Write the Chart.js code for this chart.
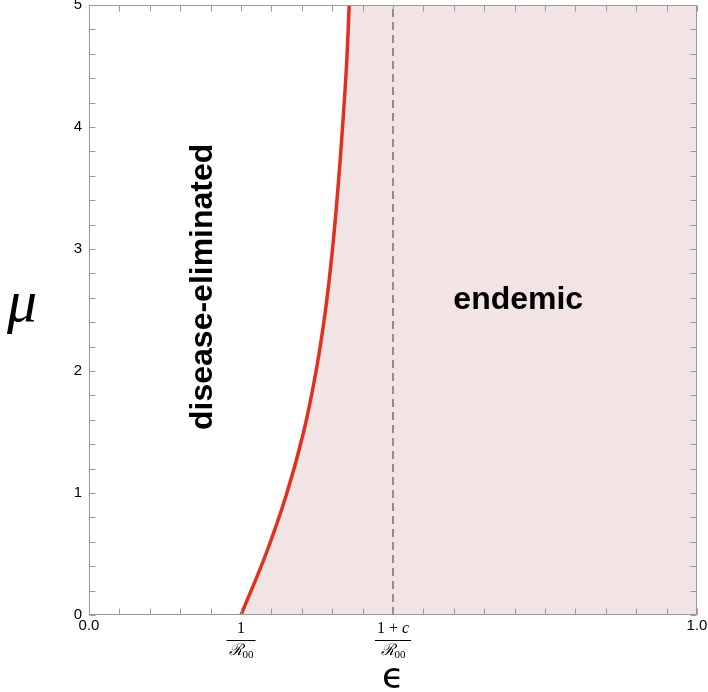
<!DOCTYPE html>
<html>
<head>
<meta charset="utf-8">
<script src="https://cdn.jsdelivr.net/npm/chart.js@4.4.0/dist/chart.umd.min.js"></script>
<style>
  html, body { margin: 0; padding: 0; background: #fff; }
</style>
</head>
<body>
<canvas id="graficoFase" width="708" height="692"></canvas>
<script>
// curva de fronteira (epsilon, mu)
var muCurve  = [0, 0.5, 1.0, 1.5, 2.0, 2.5, 3.0, 3.5, 4.0, 4.5, 5.0];
var epsCurve = [0.25, 0.291, 0.3255, 0.353, 0.3735, 0.389, 0.4005, 0.4095, 0.417, 0.4235, 0.428];

// linha tracejada em (1+c)/R00
var epsDashed = [0.5, 0.5];
var muDashed  = [0, 5];

var xRange = [0, 1];
var yRange = [0, 5];
var xEdgeTicks = [0, 1];
var xEdgeLabels = ['0.0', '1.0'];
var fracTicks = [0.25, 0.5];
var fracNum = ['1', '1 + c'];
var fracDen = ['\u211B', '\u211B'];
var fracSub = ['00', '00'];
var regionLabels = ['disease-eliminated', 'endemic'];
var axisTitles = ['\u03BC', '\u03F5'];

function toPoints(xs, ys) {
    return xs.map(function(x, i) { return { x: x, y: ys[i] }; });
}

var SANS = '"Liberation Sans", Arial, Helvetica, sans-serif';
var SERIF = '"Liberation Serif", "DejaVu Serif", serif';

// moldura, marcas internas, frações e títulos
var decoracao = {
    id: 'decoracao',
    afterDatasetsDraw: function(chart) {
        var ctx = chart.ctx, xs = chart.scales.x, ys = chart.scales.y;
        ctx.save();
        ctx.fillStyle = '#000';
        ctx.font = 'bold 32px ' + SANS;
        ctx.textAlign = 'center';
        ctx.textBaseline = 'middle';
        ctx.translate(xs.getPixelForValue(0.1875), ys.getPixelForValue(2.69));
        ctx.rotate(-Math.PI / 2);
        ctx.fillText(regionLabels[0], 0, 0);
        ctx.restore();

        ctx.save();
        ctx.fillStyle = '#000';
        ctx.font = 'bold 32px ' + SANS;
        ctx.textAlign = 'center';
        ctx.textBaseline = 'middle';
        ctx.fillText(regionLabels[1], xs.getPixelForValue(0.706), ys.getPixelForValue(2.58));
        ctx.restore();
    },
    afterDraw: function(chart) {
        var ctx = chart.ctx, a = chart.chartArea;
        var xs = chart.scales.x, ys = chart.scales.y;
        var L = Math.round(a.left) + 0.5, R = Math.round(a.right) - 0.5;
        var T = Math.round(a.top) + 0.5, B = Math.round(a.bottom) - 0.5;
        var tl = 6;

        ctx.save();
        ctx.strokeStyle = '#9a9a9a';
        ctx.lineWidth = 1;
        ctx.strokeRect(L, T, R - L, B - T);
        ctx.beginPath();
        xs.ticks.forEach(function(t) {
            var px = Math.round(xs.getPixelForValue(t.value)) + 0.5;
            ctx.moveTo(px, B); ctx.lineTo(px, B - tl);
            ctx.moveTo(px, T); ctx.lineTo(px, T + tl);
        });
        ys.ticks.forEach(function(t) {
            var py = Math.round(ys.getPixelForValue(t.value)) + 0.5;
            ctx.moveTo(L, py); ctx.lineTo(L + tl, py);
            ctx.moveTo(R, py); ctx.lineTo(R - tl, py);
        });
        ctx.stroke();
        ctx.restore();

        // rótulos em fração
        ctx.save();
        ctx.fillStyle = '#000';
        ctx.strokeStyle = '#000';
        ctx.textBaseline = 'middle';
        fracTicks.forEach(function(v, i) {
            var cx = xs.getPixelForValue(v);
            var partes = fracNum[i].split(/([a-z])/);
            var fontN = '16px ' + SERIF, fontI = 'italic 16px ' + SERIF;
            var w = 0;
            partes.forEach(function(p) {
                ctx.font = /^[a-z]$/.test(p) ? fontI : fontN;
                w += ctx.measureText(p).width;
            });
            var x0 = cx - w / 2;
            ctx.textAlign = 'left';
            partes.forEach(function(p) {
                ctx.font = /^[a-z]$/.test(p) ? fontI : fontN;
                ctx.fillText(p, x0, 629);
                x0 += ctx.measureText(p).width;
            });
            ctx.font = 'italic 16px ' + SERIF;
            var wr = ctx.measureText(fracDen[i]).width;
            ctx.font = '11px ' + SERIF;
            var ws = ctx.measureText(fracSub[i]).width;
            var wd = wr + ws;
            var xd = cx - wd / 2;
            ctx.font = 'italic 16px ' + SERIF;
            ctx.fillText(fracDen[i], xd, 651);
            ctx.font = '11px ' + SERIF;
            ctx.fillText(fracSub[i], xd + wr, 655);
            var bw = Math.max(w, wd) + 4;
            ctx.lineWidth = 1;
            ctx.beginPath();
            ctx.moveTo(cx - bw / 2, 640.5);
            ctx.lineTo(cx + bw / 2, 640.5);
            ctx.stroke();
        });

        // títulos dos eixos
        ctx.textAlign = 'center';
        ctx.font = 'italic 60px ' + SERIF;
        ctx.fillText(axisTitles[0], 22, 305);
        ctx.font = '36px "DejaVu Sans", sans-serif';
        ctx.fillText(axisTitles[1], xs.getPixelForValue(0.5), 679);
        ctx.restore();
    }
};

var ctx = document.getElementById('graficoFase').getContext('2d');
var faseChart = new Chart(ctx, {
    type: 'line',
    data: {
        datasets: [{
            data: toPoints(epsCurve, muCurve),
            borderColor: '#e2301f',
            borderWidth: 3.5,
            backgroundColor: '#f2e3e5',
            fill: { value: xRange[1] },
            pointRadius: 0,
            tension: 0.4,
            order: 2
        }, {
            data: toPoints(epsDashed, muDashed),
            borderColor: '#333',
            borderWidth: 1,
            borderDash: [8, 5],
            pointRadius: 0,
            fill: false,
            order: 1
        }]
    },
    options: {
        indexAxis: 'y',
        responsive: false,
        animation: false,
        events: [],
        layout: { padding: { left: 0, right: 11, top: 5, bottom: 0 } },
        plugins: {
            legend: { display: false },
            tooltip: { enabled: false }
        },
        scales: {
            x: {
                type: 'linear',
                position: 'bottom',
                min: xRange[0],
                max: xRange[1],
                grid: { display: false, drawTicks: false },
                border: { display: false },
                ticks: {
                    stepSize: 0.05,
                    autoSkip: false,
                    maxRotation: 0,
                    padding: 2,
                    color: '#000',
                    font: { family: SANS, size: 15 },
                    callback: function(v) {
                        for (var i = 0; i < xEdgeTicks.length; i++) {
                            if (Math.abs(v - xEdgeTicks[i]) < 1e-6) return xEdgeLabels[i];
                        }
                        return '';
                    }
                },
                afterFit: function(s) {
                    s.height = 77;
                    s.paddingLeft = 0; s.paddingRight = 0;
                }
            },
            y: {
                type: 'linear',
                position: 'left',
                min: yRange[0],
                max: yRange[1],
                grid: { display: false, drawTicks: false },
                border: { display: false },
                ticks: {
                    stepSize: 0.2,
                    autoSkip: false,
                    padding: 7,
                    color: '#000',
                    font: { family: SANS, size: 15 },
                    callback: function(v) {
                        return Math.abs(v - Math.round(v)) < 1e-6 ? String(Math.round(v)) : '';
                    }
                },
                afterFit: function(s) {
                    s.width = 89;
                    s.paddingTop = 0; s.paddingBottom = 0;
                }
            }
        }
    },
    plugins: [decoracao]
});
</script>
</body>
</html>
